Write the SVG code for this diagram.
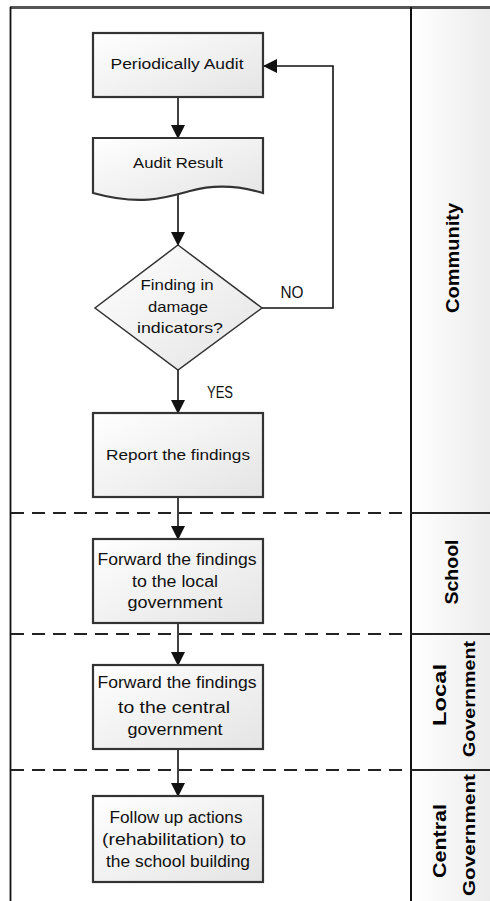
<svg xmlns="http://www.w3.org/2000/svg" width="490" height="901" viewBox="0 0 490 901">
<style>
.node{fill:url(#boxfill);stroke:#333;stroke-width:2.2}
.dia{fill:url(#boxfill);stroke:#333;stroke-width:1.5}
.t{font-family:"Liberation Sans",Arial,sans-serif;fill:#111;text-anchor:middle}
.s{font-size:14px}
.m{font-size:16px}
.lane{font-family:"Liberation Sans",Arial,sans-serif;fill:#000;font-weight:bold;text-anchor:middle}
.conn{stroke:#111;stroke-width:1.6;fill:none}
.dash{stroke:#222;stroke-width:2;stroke-dasharray:13 8;fill:none}
.sep{stroke:#222;stroke-width:2;fill:none}
</style>
<defs>
<linearGradient id="boxfill" x1="0" y1="0" x2="1" y2="1">
<stop offset="0" stop-color="#ffffff"/>
<stop offset="1" stop-color="#e4e4e4"/>
</linearGradient>
<linearGradient id="lanefill" x1="0" y1="0" x2="1" y2="0">
<stop offset="0" stop-color="#ffffff"/>
<stop offset="1" stop-color="#ececec"/>
</linearGradient>
<marker id="arr" markerWidth="14" markerHeight="14" refX="13" refY="7" orient="auto" markerUnits="userSpaceOnUse">
<path d="M0,0 L14,7 L0,14 Z" fill="#111"/>
</marker>
</defs>
<rect x="0" y="0" width="490" height="901" fill="#ffffff"/>
<g id="frame">
<rect x="411" y="8" width="79" height="893" fill="url(#lanefill)"/>
<line x1="10" y1="7.5" x2="490" y2="7.5" stroke="#555" stroke-width="3"/>
<line x1="10.5" y1="7" x2="10.5" y2="901" stroke="#111" stroke-width="1.8"/>
<line x1="411" y1="7" x2="411" y2="901" stroke="#111" stroke-width="2"/>
<line class="dash" x1="11" y1="513" x2="411" y2="513"/>
<line class="dash" x1="11" y1="634" x2="411" y2="634"/>
<line class="dash" x1="11" y1="770" x2="411" y2="770"/>
<line class="sep" x1="411" y1="513" x2="490" y2="513"/>
<line class="sep" x1="411" y1="634" x2="490" y2="634"/>
<line class="sep" x1="411" y1="770" x2="490" y2="770"/>
</g>
<g id="lane-labels">
<text class="lane" font-size="19" transform="translate(459,258) rotate(-90)" textLength="110" lengthAdjust="spacingAndGlyphs">Community</text>
<text class="lane" font-size="18" transform="translate(458,572) rotate(-90)" textLength="65" lengthAdjust="spacingAndGlyphs">School</text>
<text class="lane" font-size="19" transform="translate(446,695) rotate(-90)" textLength="62" lengthAdjust="spacingAndGlyphs">Local</text>
<text class="lane" font-size="17" transform="translate(475,699) rotate(-90)" textLength="116" lengthAdjust="spacingAndGlyphs">Government</text>
<text class="lane" font-size="19" transform="translate(446,841) rotate(-90)" textLength="74" lengthAdjust="spacingAndGlyphs">Central</text>
<text class="lane" font-size="17" transform="translate(475,835) rotate(-90)" textLength="122" lengthAdjust="spacingAndGlyphs">Government</text>
</g>
<g id="connectors">
<line class="conn" x1="178" y1="97" x2="178" y2="138" marker-end="url(#arr)"/>
<line class="conn" x1="178" y1="194" x2="178" y2="245" marker-end="url(#arr)"/>
<line class="conn" x1="178" y1="370" x2="178" y2="413" marker-end="url(#arr)"/>
<polyline class="conn" points="262,308 333,308 333,66 264,66" marker-end="url(#arr)"/>
<line class="conn" x1="178" y1="497" x2="178" y2="539" marker-end="url(#arr)"/>
<line class="conn" x1="178" y1="623" x2="178" y2="665" marker-end="url(#arr)"/>
<line class="conn" x1="178" y1="749" x2="178" y2="796" marker-end="url(#arr)"/>
<text class="t" font-size="16" x="292" y="298" textLength="23" lengthAdjust="spacingAndGlyphs">NO</text>
<text class="t" font-size="16" x="220" y="398" textLength="26" lengthAdjust="spacingAndGlyphs">YES</text>
</g>
<g id="periodically-audit">
<rect class="node" x="93" y="33" width="170" height="64"/>
<text class="t s" x="177" y="69" textLength="133" lengthAdjust="spacingAndGlyphs">Periodically Audit</text>
</g>
<g id="audit-result">
<path class="node" d="M93,138 H263 V193 C240,186 215,184 190,191 C165,198 140,206 93,193 Z"/>
<text class="t s" x="178" y="168" textLength="90" lengthAdjust="spacingAndGlyphs">Audit Result</text>
</g>
<g id="decision">
<path class="dia" d="M178,245 L262,308 L178,370 L95,308 Z"/>
<text class="t" font-size="15" x="177" y="290" textLength="73" lengthAdjust="spacingAndGlyphs">Finding in</text>
<text class="t" font-size="15" x="178" y="312" textLength="60" lengthAdjust="spacingAndGlyphs">damage</text>
<text class="t" font-size="15" x="180" y="333" textLength="86" lengthAdjust="spacingAndGlyphs">indicators?</text>
</g>
<g id="report-findings">
<rect class="node" x="93" y="413" width="170" height="84"/>
<text class="t s" x="178" y="460" textLength="144" lengthAdjust="spacingAndGlyphs">Report the findings</text>
</g>
<g id="forward-local">
<rect class="node" x="93" y="539" width="170" height="84"/>
<text class="t m" x="177" y="565" textLength="159" lengthAdjust="spacingAndGlyphs">Forward the findings</text>
<text class="t m" x="175" y="587" textLength="86" lengthAdjust="spacingAndGlyphs">to the local</text>
<text class="t m" x="175" y="608" textLength="95" lengthAdjust="spacingAndGlyphs">government</text>
</g>
<g id="forward-central">
<rect class="node" x="93" y="665" width="170" height="84"/>
<text class="t m" x="177" y="688" textLength="159" lengthAdjust="spacingAndGlyphs">Forward the findings</text>
<text class="t m" x="174" y="713" textLength="112" lengthAdjust="spacingAndGlyphs">to the central</text>
<text class="t m" x="175" y="735" textLength="95" lengthAdjust="spacingAndGlyphs">government</text>
</g>
<g id="follow-up">
<rect class="node" x="93" y="796" width="170" height="86"/>
<text class="t m" x="176" y="823" textLength="133" lengthAdjust="spacingAndGlyphs">Follow up actions</text>
<text class="t m" x="174" y="845" textLength="144" lengthAdjust="spacingAndGlyphs">(rehabilitation) to</text>
<text class="t m" x="178" y="867" textLength="144" lengthAdjust="spacingAndGlyphs">the school building</text>
</g>
</svg>
